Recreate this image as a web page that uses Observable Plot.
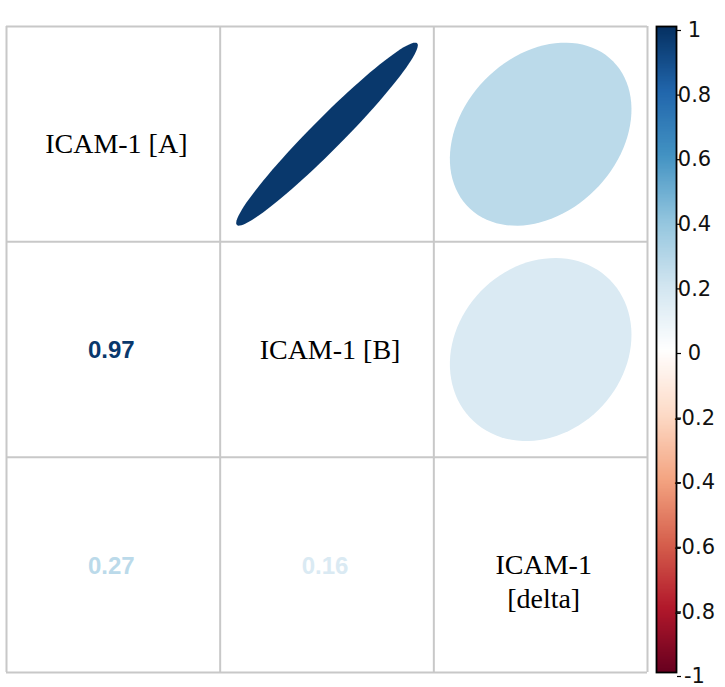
<!DOCTYPE html>
<html>
<head>
<meta charset="utf-8">
<script src="https://cdn.jsdelivr.net/npm/d3@7"></script>
<script src="https://cdn.jsdelivr.net/npm/@observablehq/plot@0.6"></script>
<style>
  html, body { margin: 0; padding: 0; background: #fff; }
  #chart { position: relative; width: 725px; height: 687px; overflow: hidden; }
  #chart > svg, #chart > figure { position: absolute; top: 0; margin: 0; }
</style>
</head>
<body>
<div id="chart"></div>
<script>
// Variables on the diagonal
const variables = ["ICAM-1 [A]", "ICAM-1 [B]", "ICAM-1\n[delta]"];

// Pairwise correlations (upper triangle): row index, column index, value
const pairRow = [1, 1, 2];
const pairCol = [2, 3, 3];
const pairR = [0.97, 0.27, 0.16];

// Diverging red–blue palette and its break points
const paletteBreaks = [-1, -0.8, -0.6, -0.4, -0.2, 0, 0.2, 0.4, 0.6, 0.8, 1];
const palette = ["#67001F", "#B2182B", "#D6604D", "#F4A582", "#FDDBC7", "#FFFFFF",
                 "#D1E5F0", "#92C5DE", "#4393C3", "#2166AC", "#053061"];

// Colour-bar tick labels
const legendTicks = [-1, -0.8, -0.6, -0.4, -0.2, 0, 0.2, 0.4, 0.6, 0.8, 1];

const colorScale = {type: "linear", domain: paletteBreaks, range: palette, interpolate: "rgb"};

// Ellipse outlines: shape follows the correlation (axes collapse toward the diagonal as |r| -> 1)
const ellipses = pairR.flatMap((r, i) => {
  const d = Math.acos(r);
  return d3.range(100).map(t => {
    const k = 2 * Math.PI * t / 99;
    return {
      id: i, r,
      x: pairCol[i] + 0.85 * Math.cos(k + d / 2) / 2,
      y: pairRow[i] - 0.85 * Math.cos(k - d / 2) / 2
    };
  });
});

// Numbers in the lower triangle (mirror of the upper)
const numbers = pairR.map((r, i) => ({x: pairRow[i], y: pairCol[i], r, label: r.toFixed(2)}));

const diag = variables.map((name, i) => ({x: i + 1, y: i + 1, name}));
const gridLines = d3.range(variables.length + 1).map(i => i + 0.5);

const serif = "'Liberation Serif', 'Times New Roman', serif";
const sans = "'Liberation Sans', Arial, sans-serif";
const legendFont = "'DejaVu Sans', sans-serif";

const main = Plot.plot({
  width: 652,
  height: 687,
  marginLeft: 6,
  marginRight: 5,
  marginTop: 26,
  marginBottom: 15,
  x: {domain: [0.5, 3.5], axis: null},
  y: {domain: [3.5, 0.5], axis: null},
  color: colorScale,
  style: {background: "white"},
  marks: [
    Plot.ruleX(gridLines, {stroke: "#c8c8c8", strokeWidth: 2}),
    Plot.ruleY(gridLines, {stroke: "#c8c8c8", strokeWidth: 2}),
    Plot.line(ellipses, {x: "x", y: "y", z: "id", fill: "r", stroke: "none", curve: "linear-closed"}),
    Plot.text(numbers, {x: "x", y: "y", text: "label", fill: "r", fontSize: 24, fontWeight: "bold", fontFamily: sans, dx: -2, dy: 1}),
    Plot.text(diag.filter(d => d.x === 1), {x: "x", y: "y", text: "name", fontSize: 28, fontFamily: serif, fill: "black", dx: 3, dy: 10}),
    Plot.text(diag.filter(d => d.x === 2), {x: "x", y: "y", text: "name", fontSize: 28, fontFamily: serif, fill: "black", dx: 3, dy: 1}),
    Plot.text(diag.filter(d => d.x === 3), {x: "x", y: "y", text: "name", fontSize: 28, fontFamily: serif, fill: "black", lineHeight: 1.22, dx: 3, dy: 15})
  ]
});
main.style.left = "0px";

const bar = Plot.plot({
  width: 75,
  height: 687,
  marginLeft: 6,
  marginRight: 49,
  marginTop: 26,
  marginBottom: 15,
  x: {domain: [0, 1], axis: null},
  y: {domain: [-1, 1]},
  color: colorScale,
  style: {background: "transparent", fontFamily: legendFont, fontSize: "21px", color: "black"},
  marks: [
    Plot.raster({x1: 0, x2: 1, y1: -1, y2: 1, width: 1, height: 400, fill: (x, y) => y, imageRendering: "auto"}),
    Plot.frame({stroke: "black", strokeWidth: 1.8}),
    Plot.axisY(legendTicks, {
      anchor: "right", tickSize: 4, tickPadding: 14, textAnchor: "middle",
      tickFormat: d => String(d), label: null, stroke: "black", strokeWidth: 1.2,
      fontSize: 21, fontFamily: legendFont, fill: "#111", dy: 4
    })
  ]
});
bar.style.left = "650px";

const chart = document.getElementById("chart");
chart.append(main, bar);
</script>
</body>
</html>
